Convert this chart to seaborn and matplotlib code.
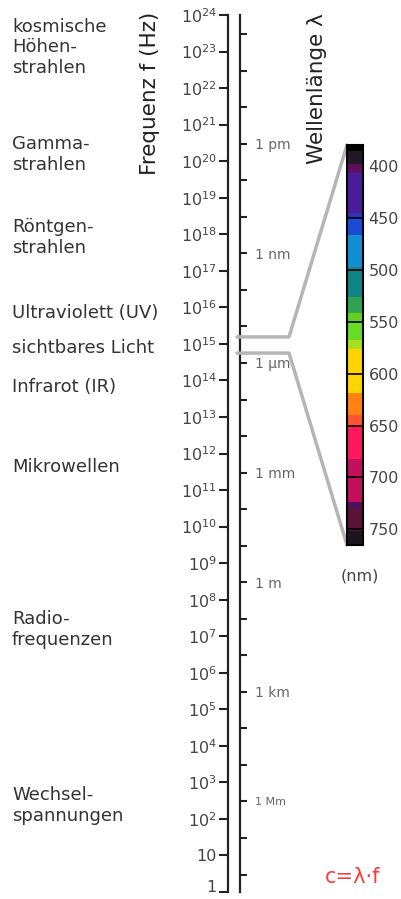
import numpy as np
import matplotlib
matplotlib.use('Agg')
import matplotlib.pyplot as plt
import matplotlib.transforms as mtransforms
from matplotlib.ticker import FixedLocator, NullLocator
import seaborn as sns

# ---------------- data ----------------
speed_of_light = 3e8  # m/s

freq_ticks_hz = [1e0, 1e1, 1e2, 1e3, 1e4, 1e5, 1e6, 1e7, 1e8, 1e9, 1e10, 1e11, 1e12,
                 1e13, 1e14, 1e15, 1e16, 1e17, 1e18, 1e19, 1e20, 1e21, 1e22, 1e23, 1e24]
freq_tick_labels = ['1', '10', '$10^{2}$', '$10^{3}$', '$10^{4}$', '$10^{5}$', '$10^{6}$',
                    '$10^{7}$', '$10^{8}$', '$10^{9}$', '$10^{10}$', '$10^{11}$', '$10^{12}$',
                    '$10^{13}$', '$10^{14}$', '$10^{15}$', '$10^{16}$', '$10^{17}$', '$10^{18}$',
                    '$10^{19}$', '$10^{20}$', '$10^{21}$', '$10^{22}$', '$10^{23}$', '$10^{24}$']

wavelength_ticks_m = [1e-15, 1e-14, 1e-13, 1e-12, 1e-11, 1e-10, 1e-9, 1e-8, 1e-7, 1e-6,
                      1e-5, 1e-4, 1e-3, 1e-2, 1e-1, 1e0, 1e1, 1e2, 1e3, 1e4, 1e5, 1e6, 1e7, 1e8]
wavelength_tick_labels = ['', '', '', '1 pm', '', '', '1 nm', '', '', '1 µm', '', '',
                          '1 mm', '', '', '1 m', '', '', '1 km', '', '', '1 Mm', '', '']

band_names = ['kosmische\nHöhen-\nstrahlen', 'Gamma-\nstrahlen', 'Röntgen-\nstrahlen',
              'Ultraviolett (UV)', 'sichtbares Licht', 'Infrarot (IR)', 'Mikrowellen',
              'Radio-\nfrequenzen', 'Wechsel-\nspannungen']
band_freq_hz = [1.3e23, 1.5e20, 8.0e17, 6.9e15, 7.8e14, 6.6e13, 4.3e11, 1.5e7, 2.3e2]

visible_bracket_hz = [1.55e15, 5.6e14]  # upper / lower edge of the grey bracket

spectrum_start_nm = [380, 386, 398, 400, 407, 445, 450, 467, 497, 500, 526, 542, 550,
                     568, 576, 619, 640, 651, 682, 724, 730, 752]
spectrum_end_nm = [386, 398, 400, 407, 445, 450, 467, 497, 500, 526, 542, 550, 568,
                   576, 619, 640, 651, 682, 724, 730, 752, 765]
spectrum_colors = ['#000000', '#231825', '#5a1050', '#5e0f62', '#4b1c9b', '#2f33b5',
                   '#1b4bd2', '#128fd2', '#1a8090', '#0f8585', '#2fa352', '#62cf22',
                   '#66dc24', '#a6e01e', '#ffd400', '#ff8212', '#ff5230', '#ff1760',
                   '#c2105c', '#4e1058', '#5a1236', '#1e1420']
spectrum_ticks_nm = [400, 450, 500, 550, 600, 650, 700, 750]
spectrum_separators_nm = [450, 500, 550, 600, 650, 700, 750]

# ---------------- style ----------------
sns.set_theme(style='white')
plt.rcParams['font.family'] = ['DejaVu Sans']
plt.rcParams['mathtext.fontset'] = 'dejavusans'

W, H = 401, 899
fig = plt.figure(figsize=(W / 100, H / 100), dpi=100)
fig.patch.set_facecolor('white')


def rect(x0, y0, x1, y1):
    return [x0 / W, 1 - y1 / H, (x1 - x0) / W, (y1 - y0) / H]


AX_X0, AX_X1 = 228, 347
ax = fig.add_axes(rect(AX_X0, 15, AX_X1, 892))
ax.patch.set_alpha(0)
ax.set_yscale('log')
ax.set_ylim(1, 1e24)
ax.set_xlim(0, 1)
for s in ['top', 'right', 'bottom']:
    ax.spines[s].set_visible(False)
ax.spines['left'].set_color('#222222')
ax.spines['left'].set_linewidth(1.6)
ax.set_xticks([])
ax.yaxis.set_major_locator(FixedLocator(freq_ticks_hz))
ax.yaxis.set_minor_locator(NullLocator())
ax.set_yticklabels(freq_tick_labels)
ax.tick_params(axis='y', which='major', direction='out', left=True, length=6.5, width=1.5,
               color='#222222', pad=1.5, labelsize=11.5, labelcolor='#444444')

# wavelength axis
c = speed_of_light
sec = ax.secondary_yaxis((240 - AX_X0) / (AX_X1 - AX_X0),
                         functions=(lambda f: c / np.maximum(f, 1e-300),
                                    lambda l: c / np.maximum(l, 1e-300)))
sec.set_yticks(wavelength_ticks_m)
sec.yaxis.set_minor_locator(NullLocator())
sec.set_yticklabels(wavelength_tick_labels)
sec.yaxis.set_ticks_position('right')
sec.spines['left'].set_visible(False)
sec.spines['right'].set_visible(True)
sec.spines['right'].set_color('#222222')
sec.spines['right'].set_linewidth(1.6)
sec.tick_params(axis='y', which='major', direction='out', right=True, left=False,
                labelright=True, labelleft=False, length=5, width=1.5, color='#222222',
                pad=6, labelsize=10, labelcolor='#666666')

# colour bar of the visible spectrum
cax = fig.add_axes(rect(347, 145, 363, 545))
cax.bar(x=0, height=np.subtract(spectrum_end_nm, spectrum_start_nm), bottom=spectrum_start_nm,
        width=1, color=spectrum_colors, linewidth=0, align='center')
cax.set_xlim(-0.5, 0.5)
cax.set_ylim(spectrum_end_nm[-1], spectrum_start_nm[0])
cax.hlines(spectrum_separators_nm, -0.5, 0.5, color='black', lw=1.2)
for s in cax.spines.values():
    s.set_visible(True)
    s.set_color('black')
    s.set_linewidth(1.5)
cax.set_xticks([])
cax.set_yticks(spectrum_ticks_nm)
cax.tick_params(axis='y', length=0, pad=4, labelsize=11.5, labelcolor='#444444',
                left=False, right=False, labelleft=False, labelright=True)

# grey bracket from the frequency axis to the colour bar
for f_edge, nm_edge in zip(visible_bracket_hz, [spectrum_start_nm[0], spectrum_end_nm[-1]]):
    corner = ax.transData.inverted().transform(cax.transData.transform((-0.5, nm_edge)))
    x_start = (237 - AX_X0) / (AX_X1 - AX_X0)
    x_knee = (289 - AX_X0) / (AX_X1 - AX_X0)
    sns.lineplot(x=[x_start, x_knee, corner[0]], y=[f_edge, f_edge, corner[1]], ax=ax,
                 sort=False, estimator=None, color='#b5b5b5', linewidth=2.5, zorder=1)
ax.set_ylim(1, 1e24)
ax.set_xlim(0, 1)
ax.set_xlabel('')
ax.set_ylabel('')

# band labels on the left
trans = mtransforms.blended_transform_factory(fig.transFigure, ax.transData)
for name, f in zip(band_names, band_freq_hz):
    ax.text(12 / W, f, name, transform=trans, ha='left', va='center', fontsize=13,
            color='#333333', linespacing=1.2, clip_on=False)

fig.text(150 / W, 1 - 93 / H, 'Frequenz f (Hz)', rotation=90, ha='center', va='center',
         fontsize=15.5, color='#222222')
fig.text(317 / W, 1 - 89 / H, 'Wellenlänge λ', rotation=90, ha='center', va='center',
         fontsize=15.5, color='#222222')
fig.text(360 / W, 1 - 576 / H, '(nm)', ha='center', va='center', fontsize=11.5, color='#444444')
fig.text(353 / W, 1 - 877 / H, 'c=λ·f', ha='center', va='center', fontsize=15, color='#ff3b3b')

# small adjustments of individual tick labels
fig.canvas.draw()
ax.yaxis.get_major_ticks()[0].label1.set_verticalalignment('baseline')
sec_ticks = sec.yaxis.get_major_ticks()
sec_ticks[21].label2.set_fontsize(8)

fig.savefig('out.png', dpi=100)
